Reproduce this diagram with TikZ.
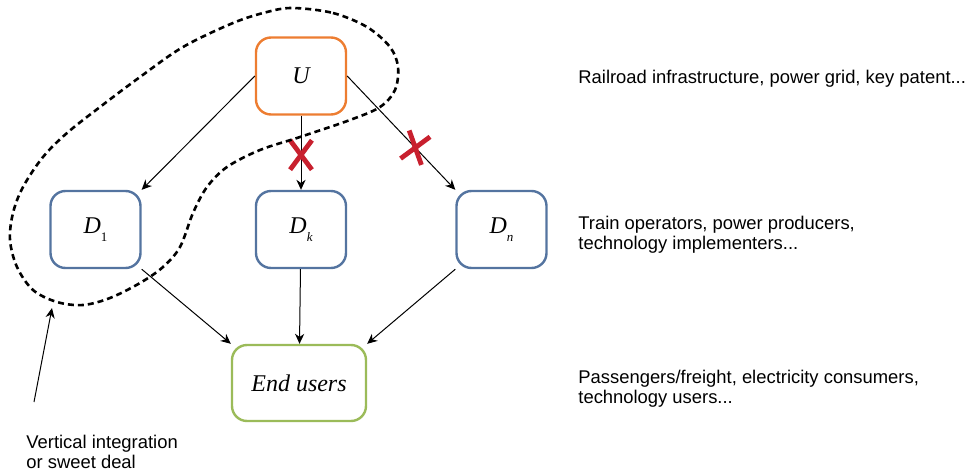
\documentclass[tikz,border=0pt]{standalone}
\usepackage{fontspec}
\setmainfont{Liberation Serif}
\setsansfont{Liberation Sans}
\usepackage{tikz}
\usetikzlibrary{positioning, arrows.meta, shapes.misc}
\definecolor{upcolor}{RGB}{237,125,49}
\definecolor{downcolor}{RGB}{84,116,160}
\definecolor{usercolor}{RGB}{155,187,89}
\definecolor{banred}{RGB}{200,32,46}
\newcommand{\Dsub}[1]{\textit{D}\raisebox{-0.7ex}{\fontsize{6.5}{7}\selectfont #1}}

\begin{document}
\begin{tikzpicture}[x=0.5pt, y=-0.5pt,
                firm/.style={
                  draw=#1, line width=1.2pt, rounded corners=7.5pt,
                  minimum width=45pt, minimum height=38.5pt, inner sep=0pt,
                  font=\fontsize{12}{14}\selectfont\itshape
                },
                firm/.default=downcolor,
                flow/.style={-{Stealth[length=5pt, width=4.6pt, inset=1.6pt]}, line width=0.5pt},
                ban/.style={cross out, draw=banred, line width=2.4pt,
                  minimum width=8.5pt, minimum height=12.3pt, inner sep=0pt},
                note/.style={font=\sffamily\fontsize{9.2}{10}\selectfont,
                  align=left, anchor=base west, inner sep=0pt},
                node distance=76.75pt, on grid
                ]
  \useasboundingbox (0,0) rectangle (969,471);

  \node [firm=upcolor] (U) at (301,76) {U};
  \node [firm, below=of U] (Dk) {\Dsub{k}};
  \node [firm, left=102.75pt of Dk] (D1) {\Dsub{\upshape 1}};
  \node [firm, right=100.25pt of Dk] (Dn) {\Dsub{n}};
  \node [firm=usercolor, minimum width=67pt, minimum height=38pt,
         below=of Dk, xshift=-1pt] (users) {End users};

  \draw [flow] (U.west) -- (D1.north east);
  \draw [flow] (U) -- node [ban, pos=0.53] (cutk) {} (Dk);
  \draw [flow] (U.east) -- node [ban, rotate=-17, pos=0.63] (cutn) {} (Dn.north west);
  \draw [flow] (D1.south east) -- (users.north west);
  \draw [flow] (Dk) -- (users);
  \draw [flow] (Dn.south west) -- (users.north east);

  % vertical integration / sweet deal
  \draw [line width=1.3pt, dash pattern=on 3pt off 2pt]
    plot [smooth cycle, tension=0.55] coordinates {
      (293,8) (333,13) (367,27) (390,47) (398,67) (395,90) (380,107)
      (350,120) (300,137) (260,150) (227,167) (207,187) (193,213)
      (180,247) (163,267) (140,283) (110,298) (83,305) (57,302)
      (33,290) (17,267) (10,240) (13,213) (23,187) (43,157) (67,133)
      (100,107) (140,77) (183,47) (233,23) (267,12)};

  \coordinate (deal tail) at (34,402);
  \coordinate (deal head) at (52,308);
  \draw [flow] (deal tail) -- (deal head);
  \node [note] (deal) at (26,468) {Vertical integration\\or sweet deal};

  \node [note] (upstream) at (578,83) {Railroad infrastructure, power grid, key patent...};
  \node [note] (downstream) at (578,249) {Train operators, power producers,\\technology implementers...};
  \node [note] (consumers) at (578,403) {Passengers/freight, electricity consumers,\\technology users...};
\end{tikzpicture}
\end{document}
